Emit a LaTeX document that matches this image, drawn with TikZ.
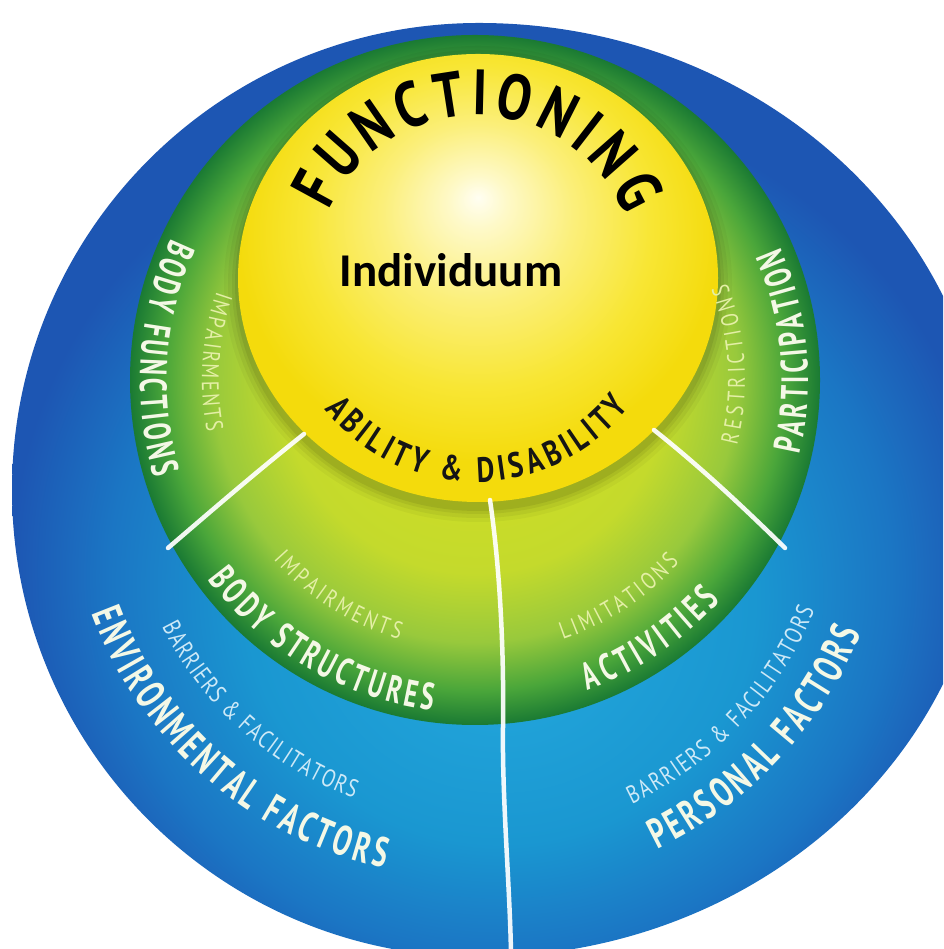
\documentclass[tikz,border=0pt]{standalone}
\usepackage{fontspec}
\usetikzlibrary{decorations.text,calc}
\newfontfamily\labfont[FakeStretch=0.78]{PT Sans}
\newfontfamily\capfont[FakeStretch=0.66]{PT Sans}
\newfontfamily\titlefont[FakeStretch=0.8]{PT Sans}
\newfontfamily\indfont{Carlito}

% palette
\definecolor{blueA}{HTML}{24A9DD}
\definecolor{blueB}{HTML}{1A97D1}
\definecolor{blueC}{HTML}{1B76C4}
\definecolor{blueD}{HTML}{1D56B3}
\definecolor{greenA}{HTML}{D4E021}
\definecolor{greenB}{HTML}{C4DA2C}
\definecolor{greenC}{HTML}{98C93C}
\definecolor{greenD}{HTML}{4AA63A}
\definecolor{greenE}{HTML}{1A7A33}
\definecolor{yelA}{HTML}{FFFEF2}
\definecolor{yelB}{HTML}{FEF9C8}
\definecolor{yelC}{HTML}{FBEF7A}
\definecolor{yelD}{HTML}{F8E634}
\definecolor{yelE}{HTML}{F4DB0C}
\definecolor{labwhite}{HTML}{F4F8E6}
\definecolor{palelime}{HTML}{E4EFA6}
\definecolor{paleblue}{HTML}{CDE9F7}
\definecolor{inkdark}{HTML}{151515}

\pgfdeclareradialshading{bluedisc}{\pgfpoint{0bp}{-8bp}}{%
  color(0bp)=(blueA); color(13bp)=(blueB); color(20bp)=(blueC);
  color(25bp)=(blueD); color(50bp)=(blueD)}
\pgfdeclareradialshading{greendisc}{\pgfpoint{0bp}{0bp}}{%
  color(0bp)=(greenA); color(14bp)=(greenB); color(19bp)=(greenC);
  color(22.5bp)=(greenD); color(25bp)=(greenE); color(50bp)=(greenE)}
\pgfdeclareradialshading{yellowdisc}{\pgfpoint{0bp}{9bp}}{%
  color(0bp)=(yelA); color(3bp)=(yelB); color(10bp)=(yelC);
  color(18bp)=(yelD); color(25bp)=(yelE); color(50bp)=(yelE)}

% text formats
\newcommand\capsbig{\color{labwhite}\capfont\bfseries\fontsize{38}{38}\selectfont}
\newcommand\capsouter{\color{labwhite}\capfont\bfseries\fontsize{42}{42}\selectfont}
\newcommand\smallgreen{\color{palelime}\labfont\fontsize{24}{24}\selectfont}
\newcommand\smallblue{\color{paleblue}\labfont\fontsize{25}{25}\selectfont}
\newcommand\titlefmt{\color{black}\titlefont\bfseries\fontsize{64}{64}\selectfont}
\newcommand\abilityfmt{\color{inkdark}\labfont\bfseries\fontsize{35}{35}\selectfont}

% text set along a circular arc: centre, radius, start angle, end angle, format, text
\newcommand\ringtext[6]{%
  \path[decorate, decoration={text along path, text align={fit to path},
    text={|#5|#6}}] (#1) ++(#3:#2) arc[start angle=#3, end angle=#4, radius=#2];}

\tikzset{
  sep/.style={draw=white, line width=4.5pt, opacity=0.93, line cap=round},
}

\begin{document}
\begin{tikzpicture}[x=1pt,y=1pt]
\useasboundingbox (0,0) rectangle (943,949);
\fill[white] (0,0) rectangle (943,949);
\clip (0,0) rectangle (943,949);

% centres
\coordinate (B) at (479,459);   % outer disc
\coordinate (TB) at (473,478);  % outer ring lettering
\coordinate (G) at (475,569);   % middle disc
\coordinate (Y) at (478,671);   % inner disc
\coordinate (FT) at (476,673);  % title arc
\coordinate (AB) at (476,661);  % lower arc of the inner disc
\coordinate (Ys) at (478,665);  % shadow of the inner disc

% discs
\shade[shading=bluedisc] (B) ++(0,467)
  arc[start angle=90, end angle=270, radius=467]
  arc[start angle=270, end angle=450, x radius=510, y radius=467] -- cycle;
\shade[shading=greendisc] (G) circle (345);
\foreach \k/\o in {14/0.035,10/0.05,6/0.06,3/0.07}
  \fill[black, opacity=\o] (Ys) ellipse ({240+\k} and {224+\k});
\shade[shading=yellowdisc] (Y) ellipse (240 and 224);

% dividing lines
\coordinate (l1) at (304,515);
\coordinate (l2) at (168,401);
\coordinate (r1) at (654,519);
\coordinate (r2) at (785,401);
\coordinate (m1) at (490,449);
\coordinate (m2) at (503,222);
\coordinate (m3) at (511,-5);
\draw[sep] (l1) .. controls (255,476) and (210,437) .. (l2);
\draw[sep] (r1) .. controls (703,480) and (745,440) .. (r2);
\draw[sep] (m1) .. controls (500,380) and (504,300) .. (m2)
           .. controls (502,150) and (510,60) .. (m3);

% inner disc lettering
\ringtext{FT}{161}{156}{22}{\titlefmt}{FUNCTIONING}
\ringtext{AB}{194}{218.6}{322}{\abilityfmt}{ABILITY {\&} DISABILITY}
\node[font=\indfont\bfseries\fontsize{47}{47}\selectfont, inner sep=0pt]
  (ind) at (451,679) {Individuum};

% middle ring lettering
\ringtext{G}{335}{155}{197}{\capsbig}{BODY FUNCTIONS}
\ringtext{G}{273}{161}{191}{\smallgreen}{IMPAIRMENTS}
\ringtext{G}{333}{-13}{23.5}{\capsbig}{PARTICIPATION}
\ringtext{G}{270}{-14}{21}{\smallgreen}{RESTRICTIONS}
\ringtext{G}{333}{216.7}{262.7}{\capsbig}{BODY STRUCTURES}
\ringtext{G}{270}{221.7}{253.7}{\smallgreen}{IMPAIRMENTS}
\ringtext{G}{330}{-70}{-42}{\capsbig}{ACTIVITIES}
\ringtext{G}{274}{-71.3}{-41.8}{\smallgreen}{LIMITATIONS}

% outer ring lettering
\ringtext{TB}{407}{200.5}{257.4}{\capsouter}{ENVIRONMENTAL FACTORS}
\ringtext{TB}{348}{206.6}{250}{\smallblue}{BARRIERS {\&} FACILITATORS}
\ringtext{TB}{421}{-64}{-22.6}{\capsouter}{PERSONAL FACTORS}
\ringtext{TB}{369}{-64.5}{-22.2}{\smallblue}{BARRIERS {\&} FACILITATORS}
\end{tikzpicture}
\end{document}
